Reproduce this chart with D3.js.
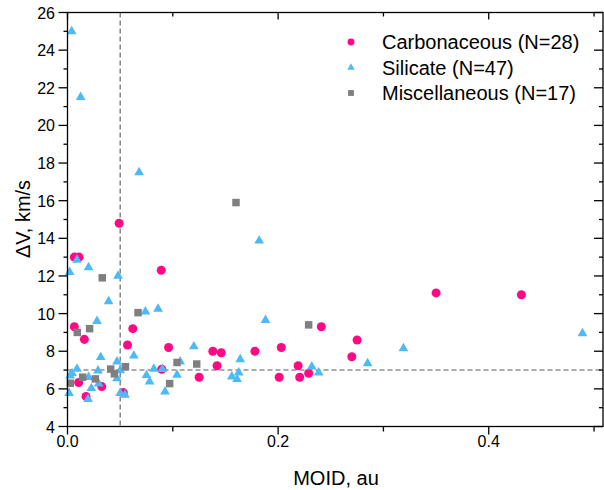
<!DOCTYPE html>
<html>
<head>
<meta charset="utf-8">
<script src="https://cdn.jsdelivr.net/npm/d3@7"></script>
<style>
  body { margin: 0; background: #fff; }
  text { font-family: "Liberation Sans", Arial, sans-serif; fill: #000; }
</style>
</head>
<body>
<svg id="chart" width="604" height="490"></svg>
<script>
// values: [MOID au, dV km/s]
const carbonaceous = [
  [0.049, 14.8], [0.0065, 13.0], [0.011, 13.0], [0.089, 12.3], [0.0065, 9.3],
  [0.016, 8.63], [0.062, 9.2], [0.057, 8.33], [0.096, 8.2], [0.0895, 7.04],
  [0.0106, 6.34], [0.0325, 6.12], [0.0176, 5.6], [0.053, 5.8], [0.125, 6.62],
  [0.138, 8.0], [0.146, 7.92], [0.178, 8.0], [0.203, 8.2], [0.142, 7.23],
  [0.201, 6.62], [0.219, 7.23], [0.2205, 6.62], [0.229, 6.83], [0.241, 9.3],
  [0.275, 8.6], [0.270, 7.71], [0.350, 11.1], [0.431, 11.0]
];
const silicate = [
  [0.004, 25.0], [0.0125, 21.5], [0.068, 17.5], [0.009, 12.85], [0.020, 12.45],
  [0.002, 12.2], [0.048, 12.0], [0.039, 10.65], [0.074, 10.1], [0.086, 10.25],
  [0.028, 9.6], [0.120, 8.25], [0.0315, 7.68], [0.063, 7.76], [0.107, 7.45],
  [0.082, 7.06], [0.090, 7.05], [0.047, 7.45], [0.050, 6.98], [0.047, 6.55],
  [0.009, 7.06], [0.0043, 6.83], [0.0024, 6.7], [0.020, 6.62], [0.029, 6.97],
  [0.0296, 6.28], [0.0226, 6.03], [0.0195, 5.45], [0.0015, 5.77], [0.050, 5.77],
  [0.0546, 5.68], [0.075, 6.72], [0.078, 6.38], [0.0926, 5.85], [0.104, 6.74],
  [0.182, 13.87], [0.188, 9.65], [0.285, 7.35], [0.164, 7.57], [0.156, 6.65],
  [0.161, 6.51], [0.1626, 6.86], [0.232, 7.18], [0.2385, 6.86], [0.319, 8.15],
  [0.489, 8.95]
];
const miscellaneous = [
  [0.160, 15.9], [0.033, 11.9], [0.067, 10.05], [0.0093, 9.0], [0.021, 9.2],
  [0.104, 7.4], [0.1227, 7.32], [0.229, 9.4], [0.041, 7.05], [0.0445, 6.8],
  [0.055, 7.18], [0.0027, 6.3], [0.0144, 6.62], [0.0264, 6.53], [0.097, 6.28]
];
const legendLabels = ["Carbonaceous (N=28)", "Silicate (N=47)", "Miscellaneous (N=17)"];
const xTicks = [0, 0.1, 0.2, 0.3, 0.4, 0.5];
const xLabelTicks = [0, 0.2, 0.4];
const yTicks = d3.range(4, 27, 1);
const yLabelTicks = d3.range(4, 27, 2);
const moidLimit = 0.05;
const dvLimit = 7;

const svg = d3.select("#chart");
const pLeft = 67.5, pRight = 603, pTop = 12.5, pBottom = 426.5;
const x = d3.scaleLinear().domain([0, 0.5085]).range([pLeft, pRight]);
const y = d3.scaleLinear().domain([4, 26]).range([pBottom, pTop]);

const series = [
  {data: carbonaceous, color: "#ff0a84", symbol: d3.symbolCircle, size: 64, lsize: 38},
  {data: silicate, color: "#4dbaf5", symbol: d3.symbolTriangle, size: 41, lsize: 24},
  {data: miscellaneous, color: "#7f7f7f", symbol: d3.symbolSquare, size: 56, lsize: 34}
];

// dashed threshold lines
svg.append("line").attr("x1", x(moidLimit)).attr("x2", x(moidLimit)).attr("y1", pTop).attr("y2", pBottom)
  .attr("stroke", "#5a5a5a").attr("stroke-width", 1.1).attr("stroke-dasharray", "5,3");
svg.append("line").attr("x1", pLeft).attr("x2", pRight).attr("y1", y(dvLimit)).attr("y2", y(dvLimit))
  .attr("stroke", "#5a5a5a").attr("stroke-width", 1.1).attr("stroke-dasharray", "5,3");

// points
series.forEach(s => {
  svg.append("g").selectAll("path").data(s.data).join("path")
    .attr("d", d3.symbol().type(s.symbol).size(s.size))
    .attr("transform", d => `translate(${x(d[0])},${y(d[1])})`)
    .attr("fill", s.color);
});

// axes: bottom/left outward, top/right inward
const major = (v, list) => list.some(t => Math.abs(t - v) < 1e-9);
const ax = svg.append("g").attr("stroke", "#000").attr("stroke-width", 1.3);
ax.append("rect").attr("x", pLeft).attr("y", pTop).attr("width", pRight - pLeft).attr("height", pBottom - pTop)
  .attr("fill", "none");
xTicks.forEach(t => {
  let len = major(t, xLabelTicks) ? 8 : 5;
  ax.append("line").attr("x1", x(t)).attr("x2", x(t)).attr("y1", pBottom).attr("y2", pBottom + len);
  ax.append("line").attr("x1", x(t)).attr("x2", x(t)).attr("y1", pTop).attr("y2", pTop + len - 1);
});
yTicks.forEach(t => {
  let len = major(t, yLabelTicks) ? 9 : 4;
  ax.append("line").attr("y1", y(t)).attr("y2", y(t)).attr("x1", pLeft).attr("x2", pLeft - len);
  ax.append("line").attr("y1", y(t)).attr("y2", y(t)).attr("x1", pRight).attr("x2", pRight - len);
});

svg.append("g").selectAll("text").data(xLabelTicks).join("text")
  .attr("x", d => x(d)).attr("y", 447).attr("text-anchor", "middle")
  .attr("font-size", 16).text(d => d3.format(".1f")(d));
svg.append("g").selectAll("text").data(yLabelTicks).join("text")
  .attr("x", 55).attr("y", d => y(d) + 6).attr("text-anchor", "end")
  .attr("font-size", 16).text(d => d);

svg.append("text").attr("x", 336).attr("y", 485).attr("text-anchor", "middle")
  .attr("font-size", 20).text("MOID, au");
svg.append("text").attr("transform", "translate(30,219) rotate(-90)").attr("text-anchor", "middle")
  .attr("font-size", 20).text("ΔV, km/s");

// legend
const lg = svg.append("g").selectAll("g").data(series).join("g")
  .attr("transform", (d, i) => `translate(351,${42 + i * 25.5})`);
lg.append("path").attr("d", d => d3.symbol().type(d.symbol).size(d.lsize)()).attr("fill", d => d.color);
lg.append("text").attr("x", 31).attr("y", 7).attr("font-size", 20).text((d, i) => legendLabels[i]);
</script>
</body>
</html>
